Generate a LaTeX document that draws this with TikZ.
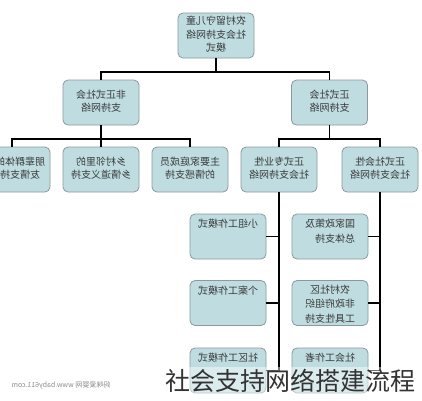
\documentclass[tikz,border=0pt]{standalone}
\usepackage{fontspec}
\setmainfont{Noto Sans CJK SC}
\definecolor{boxfill}{HTML}{BFDDE1}
\definecolor{boxline}{HTML}{8A9A9C}
\definecolor{txt}{HTML}{3A3A3A}
\newcommand{\mir}[1]{\reflectbox{\begin{tabular}{@{}c@{}}#1\end{tabular}}}
\newcommand{\mirl}[1]{\reflectbox{\begin{tabular}{@{}l@{}}#1\end{tabular}}}
\tikzset{
  box/.style={draw=boxline, fill=boxfill, rounded corners=5pt, line width=0.8pt,
    minimum width=76pt, minimum height=45pt, inner sep=0pt, text=txt,
    font=\fontsize{10}{13.5}\selectfont},
  leaftext/.style={anchor=north, inner sep=0pt, text=txt, font=\fontsize{10}{14.5}\selectfont},
  conn/.style={draw=black, line width=1.6pt}
}
\begin{document}
\begin{tikzpicture}[x=1pt,y=-1pt]
\useasboundingbox (0,0) rectangle (422,400);
\clip (0,0) rectangle (422,400);
\fill[white] (0,0) rectangle (422,400);
% level 1
\node[box] (top) at (216,35.5) {\mir{农村留守儿童\\社会支持网络\\模式}};
% level 2
\node[box] (inf) at (101,102.5) {\mir{非正式社会\\支持网络}};
\node[box] (fml) at (329.5,102.5) {\mir{正式社会\\支持网络}};
% level 3
\node[box] (a1) at (12,169.5) {};
\node[anchor=east, inner sep=0pt, text=txt, font=\fontsize{10}{13.5}\selectfont] (a1t)
  at ([xshift=-5pt]a1.east) {\mir{朋辈群体的\\友情支持}};
\node[box] (a2) at (101,169.5) {\mir{乡村邻里的\\乡情道义支持}};
\node[box] (a3) at (190,169.5) {\mir{主要家庭成员\\的情感支持}};
\node[box] (b1) at (279,169.5) {\mir{正式专业性\\社会支持网络}};
\node[box] (b2) at (380,169.5) {\mir{正式社会性\\社会支持网络}};
% leaves
\node[box] (l1) at (228,236.5) {};
\node[box] (l2) at (228,303) {};
\node[box] (l3) at (228,370.5) {};
\node[box] (r1) at (330,236.5) {};
\node[box] (r2) at (330,303) {};
\node[box] (r3) at (330,370.5) {};
\node[leaftext] (l1t) at ([yshift=-4pt]l1.north) {\mir{小组工作模式}};
\node[leaftext] (l2t) at ([yshift=-4pt]l2.north) {\mir{个案工作模式}};
\node[leaftext] (l3t) at ([yshift=-4pt]l3.north) {\mir{社区工作模式}};
\node[leaftext] (r1t) at ([yshift=-4pt]r1.north) {\mirl{国家政策及\\总体支持}};
\node[leaftext] (r2t) at ([yshift=-3pt]r2.north) {\mir{农村社区\\非政府组织\\工具性支持}};
\node[leaftext] (r3t) at ([yshift=-4pt]r3.north) {\mir{社会工作者}};
% connectors
\coordinate (bar1) at (0,72);
\coordinate (bar2) at (0,139);
\draw[conn] (top.south) -- (top.south |- bar1);
\draw[conn] (inf.north) -- (inf.north |- bar1) -- (fml.north |- bar1) -- (fml.north);
\draw[conn] (inf.south) -- (inf.south |- bar2);
\draw[conn] (a1.north) -- (a1.north |- bar2) -- (a3.north |- bar2) -- (a3.north);
\draw[conn] (a2.north) -- (a2.north |- bar2);
\draw[conn] (fml.south) -- (fml.south |- bar2);
\draw[conn] (b1.north) -- (b1.north |- bar2) -- (b2.north |- bar2) -- (b2.north);
\draw[conn] (b1.south) -- (b1.south |- l3.east) -- (l3.east);
\draw[conn] (l1.east) -- (l1.east -| b1.south);
\draw[conn] (l2.east) -- (l2.east -| b1.south);
\draw[conn] (b2.south) -- (b2.south |- r3.east) -- (r3.east);
\draw[conn] (r1.east) -- (r1.east -| b2.south);
\draw[conn] (r2.east) -- (r2.east -| b2.south);
% overlay title and watermark
\node[fill=white, fill opacity=0.45, text opacity=1, text=black!80, inner sep=2pt,
  font=\fontsize{25}{25}\selectfont] (title) at (290,381) {社会支持网络搭建流程};
\node[text=black!45, inner sep=0pt, font=\fontsize{7}{7}\selectfont] (wm) at (61,385)
  {\reflectbox{妈咪爱婴网 www.baby611.com}};
\end{tikzpicture}
\end{document}
